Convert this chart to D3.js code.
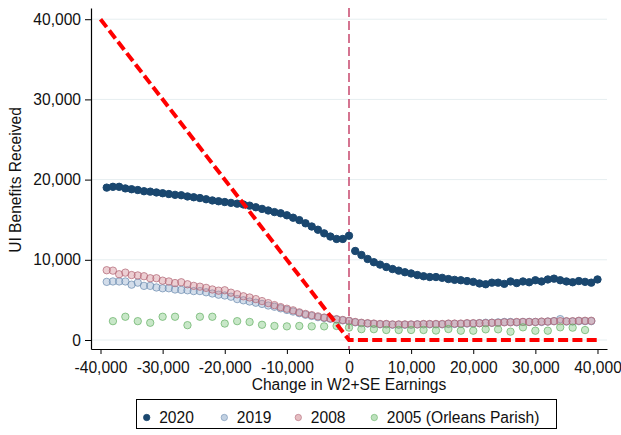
<!DOCTYPE html>
<html>
<head>
<meta charset="utf-8">
<script src="https://cdn.jsdelivr.net/npm/d3@7"></script>
<style>
  html, body { margin: 0; padding: 0; background: #fff; }
  svg text { font-family: "Liberation Sans", Arial, Helvetica, sans-serif; fill: #111; }
</style>
</head>
<body>
<svg id="chart" width="621" height="435"></svg>
<script>
// Earnings-change bins (dollars)
const bins2020 = [-39000,-38000,-37000,-36000,-35000,-34000,-33000,-32000,-31000,-30000,
  -29000,-28000,-27000,-26000,-25000,-24000,-23000,-22000,-21000,-20000,
  -19000,-18000,-17000,-16000,-15000,-14000,-13000,-12000,-11000,-10000,
  -9000,-8000,-7000,-6000,-5000,-4000,-3000,-2000,-1000,0,
  1000,2000,3000,4000,5000,6000,7000,8000,9000,10000,
  11000,12000,13000,14000,15000,16000,17000,18000,19000,20000,
  21000,22000,23000,24000,25000,26000,27000,28000,29000,30000,
  31000,32000,33000,34000,35000,36000,37000,38000,39000,40000];
const binsPrior = bins2020.slice(0, 79);
const bins2005 = [-38000,-36000,-34000,-32000,-30000,-28000,-26000,-24000,-22000,-20000,
  -18000,-16000,-14000,-12000,-10000,-8000,-6000,-4000,-2000,0,
  2000,4000,6000,8000,10000,12000,14000,16000,18000,20000,
  22000,24000,26000,28000,30000,32000,34000,36000,38000];

// Mean UI benefits received in each bin
const ui2020 = [19000,19100,19100,18900,18800,18700,18550,18500,18400,18300,
  18200,18100,18050,17900,17800,17700,17550,17400,17300,17200,
  17100,17000,16900,16750,16550,16350,16150,15950,15800,15550,
  15250,14950,14550,14150,13750,13300,12900,12600,12600,13000,
  11100,10600,10100,9700,9400,9100,8850,8650,8450,8300,
  8100,7950,7850,7850,7750,7600,7500,7450,7350,7250,
  7050,6950,7150,7150,7000,7300,7100,7300,7200,7450,
  7300,7550,7650,7450,7300,7200,7350,7250,7150,7550];
const ui2019 = [7250,7300,7300,7300,6900,7150,6750,6750,6550,6450,
  6450,6300,6250,6200,6100,6100,5950,5800,5650,5550,
  5400,5100,4950,4800,4650,4500,4300,4150,3950,3750,
  3550,3350,3150,3000,2850,2750,2650,2550,2450,2350,
  2200,2100,2050,2000,1950,1950,1900,1900,1900,1900,
  1950,1950,1950,1950,1950,2000,2000,2000,2050,2050,
  2100,2150,2150,2200,2250,2250,2200,2250,2250,2250,
  2250,2300,2350,2600,2300,2300,2350,2350,2350];
const ui2008 = [8700,8650,8200,8400,8100,8050,7950,7700,7700,7400,
  7300,7100,7200,6950,6750,6650,6500,6300,6150,6200,
  5900,5700,5450,5300,5100,4850,4600,4350,4100,3900,
  3700,3450,3250,3100,2950,2800,2700,2600,2500,2400,
  2250,2150,2100,2050,2000,2000,1950,1950,1950,1950,
  1950,2000,2000,2000,2000,2050,2050,2050,2100,2100,
  2100,2100,2150,2150,2200,2200,2250,2250,2250,2250,
  2300,2300,2350,2350,2350,2350,2400,2400,2400];
const ui2005 = [2350,2900,2350,2150,2900,2900,1850,2900,2900,2050,
  2350,2250,1900,1750,1700,1750,1700,1700,1750,1550,
  1350,1350,1250,1250,1250,1250,1180,1370,1160,1160,
  1330,1330,1040,1580,1160,1160,1580,1540,1240];

// Reference line: benefits that exactly offset the earnings change
const offsetX = [-40000, 0, 40000];
const offsetY = [40000, 0, 0];

const xTicks = [-40000,-30000,-20000,-10000,0,10000,20000,30000,40000];
const yTicks = [0,10000,20000,30000,40000];

const seriesNames = ["2020", "2019", "2008", "2005 (Orleans Parish)"];

const svg = d3.select("#chart");
const plot = { left: 91, right: 607, top: 8, bottom: 349 };

const x = d3.scaleLinear().domain([-41530, 41530]).range([plot.left, plot.right]);
const y = d3.scaleLinear().domain([-1122, 41397]).range([plot.bottom, plot.top]);

const fmt = v => d3.format(",")(v).replace("\u2212", "-");
const fontSize = "15.6px";

// Horizontal gridlines
svg.append("g").selectAll("line").data(yTicks).join("line")
  .attr("x1", plot.left).attr("x2", plot.right)
  .attr("y1", d => y(d)).attr("y2", d => y(d))
  .attr("stroke", "#e6eef0").attr("stroke-width", 1);

// Vertical reference line at zero change
svg.append("line")
  .attr("x1", x(0)).attr("x2", x(0))
  .attr("y1", plot.top).attr("y2", plot.bottom)
  .attr("stroke", "#c33a63").attr("stroke-width", 1.4)
  .attr("stroke-dasharray", "9,4");

// Axes
const yAxis = svg.append("g")
  .attr("transform", `translate(${plot.left},0)`)
  .call(d3.axisLeft(y).tickValues(yTicks).tickFormat(fmt).tickSize(6).tickPadding(4).tickSizeOuter(0));
const xAxis = svg.append("g")
  .attr("transform", `translate(0,${plot.bottom})`)
  .call(d3.axisBottom(x).tickValues(xTicks).tickFormat(fmt).tickSize(5).tickPadding(8).tickSizeOuter(0));
[yAxis, xAxis].forEach(g => {
  g.select(".domain").attr("stroke", "#000").attr("stroke-width", 1.2);
  g.selectAll(".tick line").attr("stroke", "#000");
  g.selectAll(".tick text").attr("font-size", fontSize).attr("fill", "#111")
    .style("font-family", "'Liberation Sans', Arial, sans-serif");
});

// Axis titles
svg.append("text")
  .attr("transform", `translate(21,180) rotate(-90)`)
  .attr("text-anchor", "middle").attr("font-size", fontSize)
  .text("UI Benefits Received");
svg.append("text")
  .attr("x", x(0)).attr("y", 390)
  .attr("text-anchor", "middle").attr("font-size", fontSize)
  .text("Change in W2+SE Earnings");

// Scatter series
const series = [
  { name: seriesNames[0], xs: bins2020, ys: ui2020, fill: "#1a476f", fillOp: 1, stroke: "#1a476f", strokeOp: 1 },
  { name: seriesNames[1], xs: binsPrior, ys: ui2019, fill: "#90abca", fillOp: 0.4, stroke: "#6a8aae", strokeOp: 0.7 },
  { name: seriesNames[2], xs: binsPrior, ys: ui2008, fill: "#d08890", fillOp: 0.4, stroke: "#b06474", strokeOp: 0.7 },
  { name: seriesNames[3], xs: bins2005, ys: ui2005, fill: "#86c986", fillOp: 0.45, stroke: "#5aab5a", strokeOp: 0.65 }
];

series.forEach(s => {
  const pts = s.xs.map((v, i) => ({ x: v, y: s.ys[i] }));
  svg.append("g").selectAll("circle").data(pts).join("circle")
    .attr("cx", d => x(d.x)).attr("cy", d => y(d.y)).attr("r", 3.7)
    .attr("fill", s.fill).attr("fill-opacity", s.fillOp)
    .attr("stroke", s.stroke).attr("stroke-opacity", s.strokeOp).attr("stroke-width", 1);
});

// Offset line
svg.append("path")
  .datum(offsetX.map((v, i) => [v, offsetY[i]]))
  .attr("d", d3.line().x(d => x(d[0])).y(d => y(d[1])))
  .attr("fill", "none").attr("stroke", "#ff0000").attr("stroke-width", 4)
  .attr("stroke-dasharray", "10,4.3");

// Legend
const lg = svg.append("g");
lg.append("rect").attr("x", 136.5).attr("y", 399.5).attr("width", 420).attr("height", 29)
  .attr("fill", "#fff").attr("stroke", "#000").attr("stroke-width", 1);
const legendX = [146.7, 224.3, 298.3, 374.3];
series.forEach((s, i) => {
  lg.append("circle").attr("cx", legendX[i]).attr("cy", 417.5).attr("r", 3.2)
    .attr("fill", s.fill).attr("fill-opacity", i === 0 ? 1 : 0.55)
    .attr("stroke", s.stroke).attr("stroke-opacity", s.strokeOp).attr("stroke-width", 0.8);
  lg.append("text").attr("x", legendX[i] + 12.5).attr("y", 423)
    .attr("font-size", fontSize).text(s.name);
});
</script>
</body>
</html>
